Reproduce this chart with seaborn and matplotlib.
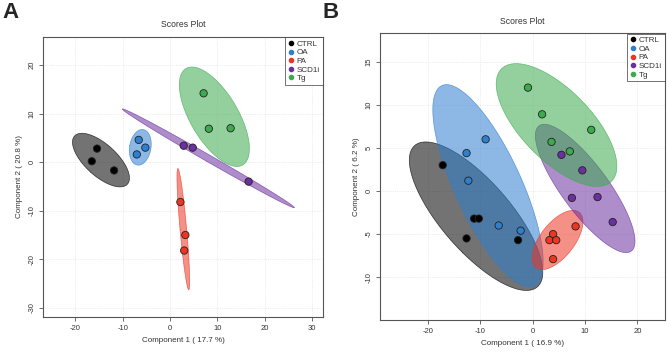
import numpy as np
import pandas as pd
import matplotlib
matplotlib.use('Agg')
import matplotlib.pyplot as plt
import seaborn as sns
from matplotlib.lines import Line2D

groups = ['CTRL', 'OA', 'PA', 'SCD1i', 'Tg']
colors = ['#000000', '#2F7FD0', '#EE3524', '#6B2FA0', '#3DAA4E']

# panel A scores (3 samples per group)
a_x = {'CTRL': [-15.4, -16.5, -11.8], 'OA': [-6.6, -5.2, -7.0],
       'PA': [2.2, 3.25, 3.0], 'SCD1i': [2.9, 4.8, 16.6], 'Tg': [7.1, 8.2, 12.8]}
a_y = {'CTRL': [2.8, 0.2, -1.7], 'OA': [4.6, 3.0, 1.6],
       'PA': [-8.2, -15.0, -18.2], 'SCD1i': [3.4, 3.0, -4.0], 'Tg': [14.2, 6.9, 7.0]}

# panel B scores (5 samples per group)
b_x = {'CTRL': [-17.2, -12.65, -11.2, -10.3, -2.8], 'OA': [-9.0, -12.65, -12.3, -6.5, -2.3],
       'PA': [3.9, 3.2, 4.5, 8.2, 3.9], 'SCD1i': [5.5, 9.5, 7.5, 12.4, 15.3],
       'Tg': [-0.9, 1.8, 11.2, 3.6, 7.1]}
b_y = {'CTRL': [3.0, -5.5, -3.2, -3.2, -5.7], 'OA': [6.0, 4.4, 1.2, -4.0, -4.6],
       'PA': [-5.0, -5.7, -5.7, -4.1, -7.9], 'SCD1i': [4.2, 2.4, -0.8, -0.7, -3.6],
       'Tg': [12.0, 8.9, 7.1, 5.7, 4.6]}

sns.set_style('white')
plt.rcParams['font.family'] = ['Liberation Sans', 'DejaVu Sans']
plt.rcParams['axes.unicode_minus'] = False

pal = dict(zip(groups, colors))


def conf_ellipse(x, y, n=200):
    """95% confidence ellipse from the group covariance."""
    pts = np.column_stack([x, y])
    cov = np.cov(pts, rowvar=False)
    vals, vecs = np.linalg.eigh(cov)
    t = np.sqrt(-2 * np.log(0.05))
    th = np.linspace(0, 2 * np.pi, n)
    circ = np.column_stack([np.cos(th), np.sin(th)]) * np.sqrt(np.maximum(vals, 0)) * t
    ell = circ @ vecs.T + pts.mean(axis=0)
    return ell[:, 0], ell[:, 1]


def scores_plot(ax, xs, ys, xlim, ylim, xticks, yticks, xlab, ylab):
    for g in groups:
        ex, ey = conf_ellipse(xs[g], ys[g])
        ax.fill(ex, ey, facecolor=pal[g], alpha=0.55, edgecolor='none', zorder=2)
        ax.plot(ex, ey, color=pal[g], lw=0.5, alpha=0.7, zorder=2)
    df = pd.DataFrame([(g, x, y) for g in groups for x, y in zip(xs[g], ys[g])],
                      columns=['group', 'x', 'y'])
    sns.scatterplot(data=df, x='x', y='y', hue='group', palette=pal, s=28,
                    edgecolor='#222222', linewidth=0.6, legend=False, ax=ax, zorder=3)
    ax.set_xlim(*xlim)
    ax.set_ylim(*ylim)
    ax.set_xticks(xticks)
    ax.set_yticks(yticks)
    ax.grid(True, color='#dddddd', lw=0.5, ls=':')
    ax.set_axisbelow(True)
    for s in ax.spines.values():
        s.set_color('#555555')
        s.set_linewidth(0.8)
    ax.tick_params(axis='both', direction='out', length=3, width=0.6, color='#555555',
                   labelsize=5.5, labelcolor='#333333', bottom=True, left=True, pad=2.5)
    for lab in ax.get_yticklabels():
        lab.set_rotation(90)
        lab.set_va('center')
    ax.set_xlabel(xlab, fontsize=5.8, color='#333333', labelpad=4)
    ax.set_ylabel(ylab, fontsize=5.8, color='#333333', labelpad=4)
    ax.set_title('Scores Plot', fontsize=6.2, color='#333333', pad=7)
    handles = [Line2D([], [], marker='o', ls='none', color=pal[g], markersize=3)
               for g in groups]
    leg = ax.legend(handles, groups, loc='upper right', fontsize=5.8, frameon=True,
                    fancybox=False, borderaxespad=0.05, handletextpad=0.15,
                    handlelength=1.0, labelspacing=0.12, borderpad=0.35,
                    labelcolor='#333333')
    leg.get_frame().set_edgecolor('#333333')
    leg.get_frame().set_linewidth(0.6)


fig = plt.figure(figsize=(6.69, 3.54), dpi=100)
axA = fig.add_axes([0.0643, 0.1045, 0.4185, 0.791])
axB = fig.add_axes([0.568, 0.0952, 0.426, 0.8107])

scores_plot(axA, a_x, a_y, (-26.8, 32.3), (-31.9, 25.8),
            [-20, -10, 0, 10, 20, 30], [-30, -20, -10, 0, 10, 20],
            'Component 1 ( 17.7 %)', 'Component 2 ( 20.8 %)')
scores_plot(axB, b_x, b_y, (-29.2, 25.3), (-15.0, 18.3),
            [-20, -10, 0, 10, 20], [-10, -5, 0, 5, 10, 15],
            'Component 1 ( 16.9 %)', 'Component 2 ( 6.2 %)')

fig.text(0.004, 0.995, 'A', fontsize=16, fontweight='bold', va='top', ha='left')
fig.text(0.482, 0.995, 'B', fontsize=16, fontweight='bold', va='top', ha='left')

fig.savefig('out.png', dpi=100)
